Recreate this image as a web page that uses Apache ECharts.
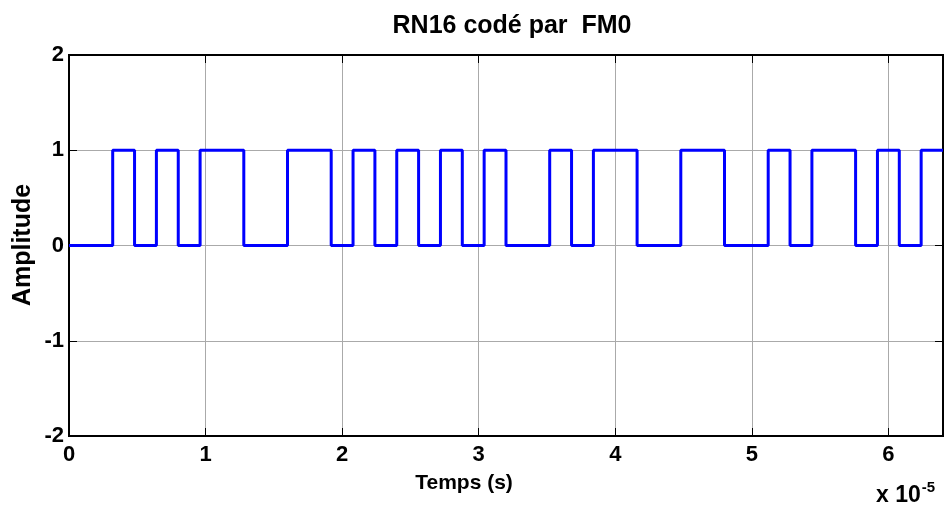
<!DOCTYPE html>
<html>
<head>
<meta charset="utf-8">
<script src="https://cdn.jsdelivr.net/npm/echarts@6/dist/echarts.min.js"></script>
<style>
  html, body { margin: 0; padding: 0; background: #fff; }
  #chart { width: 947px; height: 512px; }
</style>
</head>
<body>
<div id="chart"></div>
<script>
// transition times, in units of 1e-5 s
var edges = [0, 0.32, 0.48, 0.64, 0.80, 0.96, 1.28, 1.60, 1.92, 2.08, 2.24, 2.40, 2.56, 2.72, 2.88,
             3.04, 3.20, 3.52, 3.68, 3.84, 4.16, 4.48, 4.80, 5.12, 5.28, 5.44, 5.76, 5.92, 6.08, 6.24, 6.40];
// level held from each edge to the next
var levels = [0, 1, 0, 1, 0, 1, 0, 1, 0, 1, 0, 1, 0, 1, 0,
              1, 0, 1, 0, 1, 0, 1, 0, 1, 0, 1, 0, 1, 0, 1];
var xTicks = [0, 1, 2, 3, 4, 5, 6];
var yTicks = [-2, -1, 0, 1, 2];

var points = [];
for (var i = 0; i < levels.length; i++) {
    points.push([edges[i], levels[i]]);
}
points.push([edges[edges.length - 1], levels[levels.length - 1]]);

var font = 'Liberation Sans, Arial, sans-serif';
var tick = { show: true, inside: true, length: 8, lineStyle: { color: '#000', width: 1 } };
var line = { show: true, onZero: false, lineStyle: { color: '#000', width: 2 } };

var chart = echarts.init(document.getElementById('chart'));
chart.setOption({
    animation: false,
    backgroundColor: '#fff',
    title: {
        text: 'RN16 codé par  FM0',
        left: 507,
        textAlign: 'center',
        top: 9,
        textStyle: { fontFamily: font, fontWeight: 'bold', fontSize: 25, color: '#000' }
    },
    grid: {
        left: 69, right: 4, top: 55, bottom: 76,
        show: true, borderColor: '#000', borderWidth: 2, backgroundColor: 'transparent'
    },
    xAxis: [{
        type: 'value',
        min: 0, max: 6.4, interval: 1,
        axisLine: line,
        axisTick: tick,
        axisLabel: {
            color: '#000', fontFamily: font, fontWeight: 'bold', fontSize: 22, margin: 8,
            formatter: function (v) { return xTicks.indexOf(v) >= 0 ? String(v) : ''; }
        },
        splitLine: { show: true, lineStyle: { color: '#aaa', width: 1 } }
    }, {
        type: 'value', position: 'top',
        min: 0, max: 6.4, interval: 1,
        axisLine: line, axisTick: tick,
        axisLabel: { show: false }, splitLine: { show: false }
    }],
    yAxis: [{
        type: 'value',
        min: -2, max: 2, interval: 1,
        axisLine: line,
        axisTick: tick,
        axisLabel: {
            color: '#000', fontFamily: font, fontWeight: 'bold', fontSize: 22, margin: 5,
            formatter: function (v) { return yTicks.indexOf(v) >= 0 ? String(v) : ''; }
        },
        splitLine: { show: true, lineStyle: { color: '#aaa', width: 1 } }
    }, {
        type: 'value', position: 'right',
        min: -2, max: 2, interval: 1,
        axisLine: line, axisTick: tick,
        axisLabel: { show: false }, splitLine: { show: false }
    }],
    graphic: [
        {
            type: 'text', x: 464, y: 483,
            style: { text: 'Temps (s)', font: 'bold 21px ' + font, fill: '#000', textAlign: 'center', textVerticalAlign: 'middle' }
        },
        {
            type: 'text', x: 23, y: 245, rotation: Math.PI / 2,
            style: { text: 'Amplitude', font: 'bold 25px ' + font, fill: '#000', textAlign: 'center', textVerticalAlign: 'middle' }
        },
        {
            type: 'text', x: 876, y: 480,
            style: {
                text: '{b|x 10}{s|-5}',
                rich: {
                    b: { font: 'bold 23px ' + font, fill: '#000', verticalAlign: 'bottom' },
                    s: { font: 'bold 15px ' + font, fill: '#000', verticalAlign: 'top', padding: [0, 0, 12, 1] }
                }
            }
        }
    ],
    series: [{
        type: 'line',
        step: 'end',
        data: points,
        symbol: 'none',
        lineStyle: { color: '#0000ff', width: 3 },
        clip: false
    }]
});
</script>
</body>
</html>
